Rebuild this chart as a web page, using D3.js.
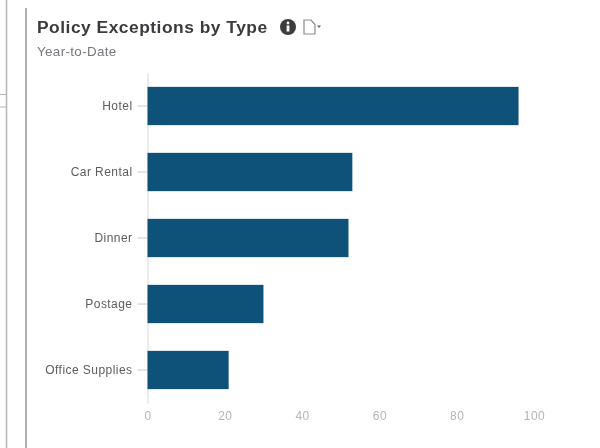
<!DOCTYPE html>
<html lang="en">
<head>
<meta charset="UTF-8">
<title>Policy Exceptions by Type</title>
<script src="https://d3js.org/d3.v7.min.js"></script>
<style>
    * { margin: 0; padding: 0; }
    html, body { background: #fff; overflow: hidden; }
    svg { display: block; font-family: "Liberation Sans", Arial, sans-serif; filter: blur(0.45px); }
    .tick text { font-size: 12px; letter-spacing: 0.45px; }
</style>
</head>
<body>
<svg width="600" height="448"></svg>
<script>
const categories = ["Hotel", "Car Rental", "Dinner", "Postage", "Office Supplies"];
const exceptions = [96, 53, 52, 30, 21];
const xTicks = [0, 20, 40, 60, 80, 100];

const svg = d3.select("svg");

const x = d3.scaleLinear().domain([0, 100]).range([147.5, 534]);
const y = d3.scaleBand().domain(categories).range([73, 403]).paddingInner(0.42).paddingOuter(0.21);

// page furniture round the panel
svg.append("line").attr("x1", 26).attr("x2", 26).attr("y1", 8).attr("y2", 448)
    .attr("stroke", "#aeaeb2").attr("stroke-width", 2);
svg.append("line").attr("x1", 6.5).attr("x2", 6.5).attr("y1", 0).attr("y2", 448)
    .attr("stroke", "#b4b4b8").attr("stroke-width", 1.5);
[94.5, 107].forEach(py => {
    svg.append("line").attr("x1", 0).attr("x2", 6).attr("y1", py).attr("y2", py)
        .attr("stroke", "#b4b4b8");
});

// title and subtitle
svg.append("text").attr("x", 37).attr("y", 32.5)
    .attr("font-size", 17.4).attr("letter-spacing", 0.5).attr("font-weight", "bold").attr("fill", "#3b3b3f")
    .text("Policy Exceptions by Type");
svg.append("text").attr("x", 37).attr("y", 55.5)
    .attr("font-size", 13.4).attr("letter-spacing", 0.35).attr("fill", "#77777d")
    .text("Year-to-Date");

// info icon
const info = svg.append("g").attr("transform", "translate(288,27)");
info.append("circle").attr("r", 8).attr("fill", "#3c3c3c");
info.append("circle").attr("cy", -4).attr("r", 1.4).attr("fill", "#fff");
info.append("rect").attr("x", -1.4).attr("y", -1.5).attr("width", 2.8).attr("height", 6).attr("fill", "#fff");

// document icon with its dropdown caret
svg.append("path").attr("d", "M304,20H311L315,24.5V34H304Z")
    .attr("fill", "#fff").attr("stroke", "#8c8c8c").attr("stroke-width", 1.2);
svg.append("path").attr("d", "M317,25.5H321L319,28Z").attr("fill", "#666");

// y axis goes under the bars
const yAxis = svg.append("g").attr("transform", `translate(${x(0)},0)`)
    .call(d3.axisLeft(y).tickSizeInner(10).tickSizeOuter(0).tickPadding(5));
yAxis.select(".domain").attr("stroke", "#e4e4e6").attr("stroke-width", 1.5);
yAxis.selectAll(".tick line").attr("stroke", "#c8c8c8");
yAxis.selectAll(".tick text").attr("fill", "#5c5c61").attr("dy", "0.3em");

// bars
svg.append("g").selectAll("rect")
    .data(categories)
    .join("rect")
    .attr("x", x(0))
    .attr("y", d => y(d))
    .attr("width", (d, i) => x(exceptions[i]) - x(0))
    .attr("height", y.bandwidth())
    .attr("fill", "#0f5279");

// x axis, labels only
const xAxis = svg.append("g").attr("transform", "translate(0,402)")
    .call(d3.axisBottom(x).tickValues(xTicks).tickSize(0).tickPadding(9));
xAxis.select(".domain").remove();
xAxis.selectAll(".tick text").attr("fill", "#b4b4b8");
</script>
</body>
</html>
